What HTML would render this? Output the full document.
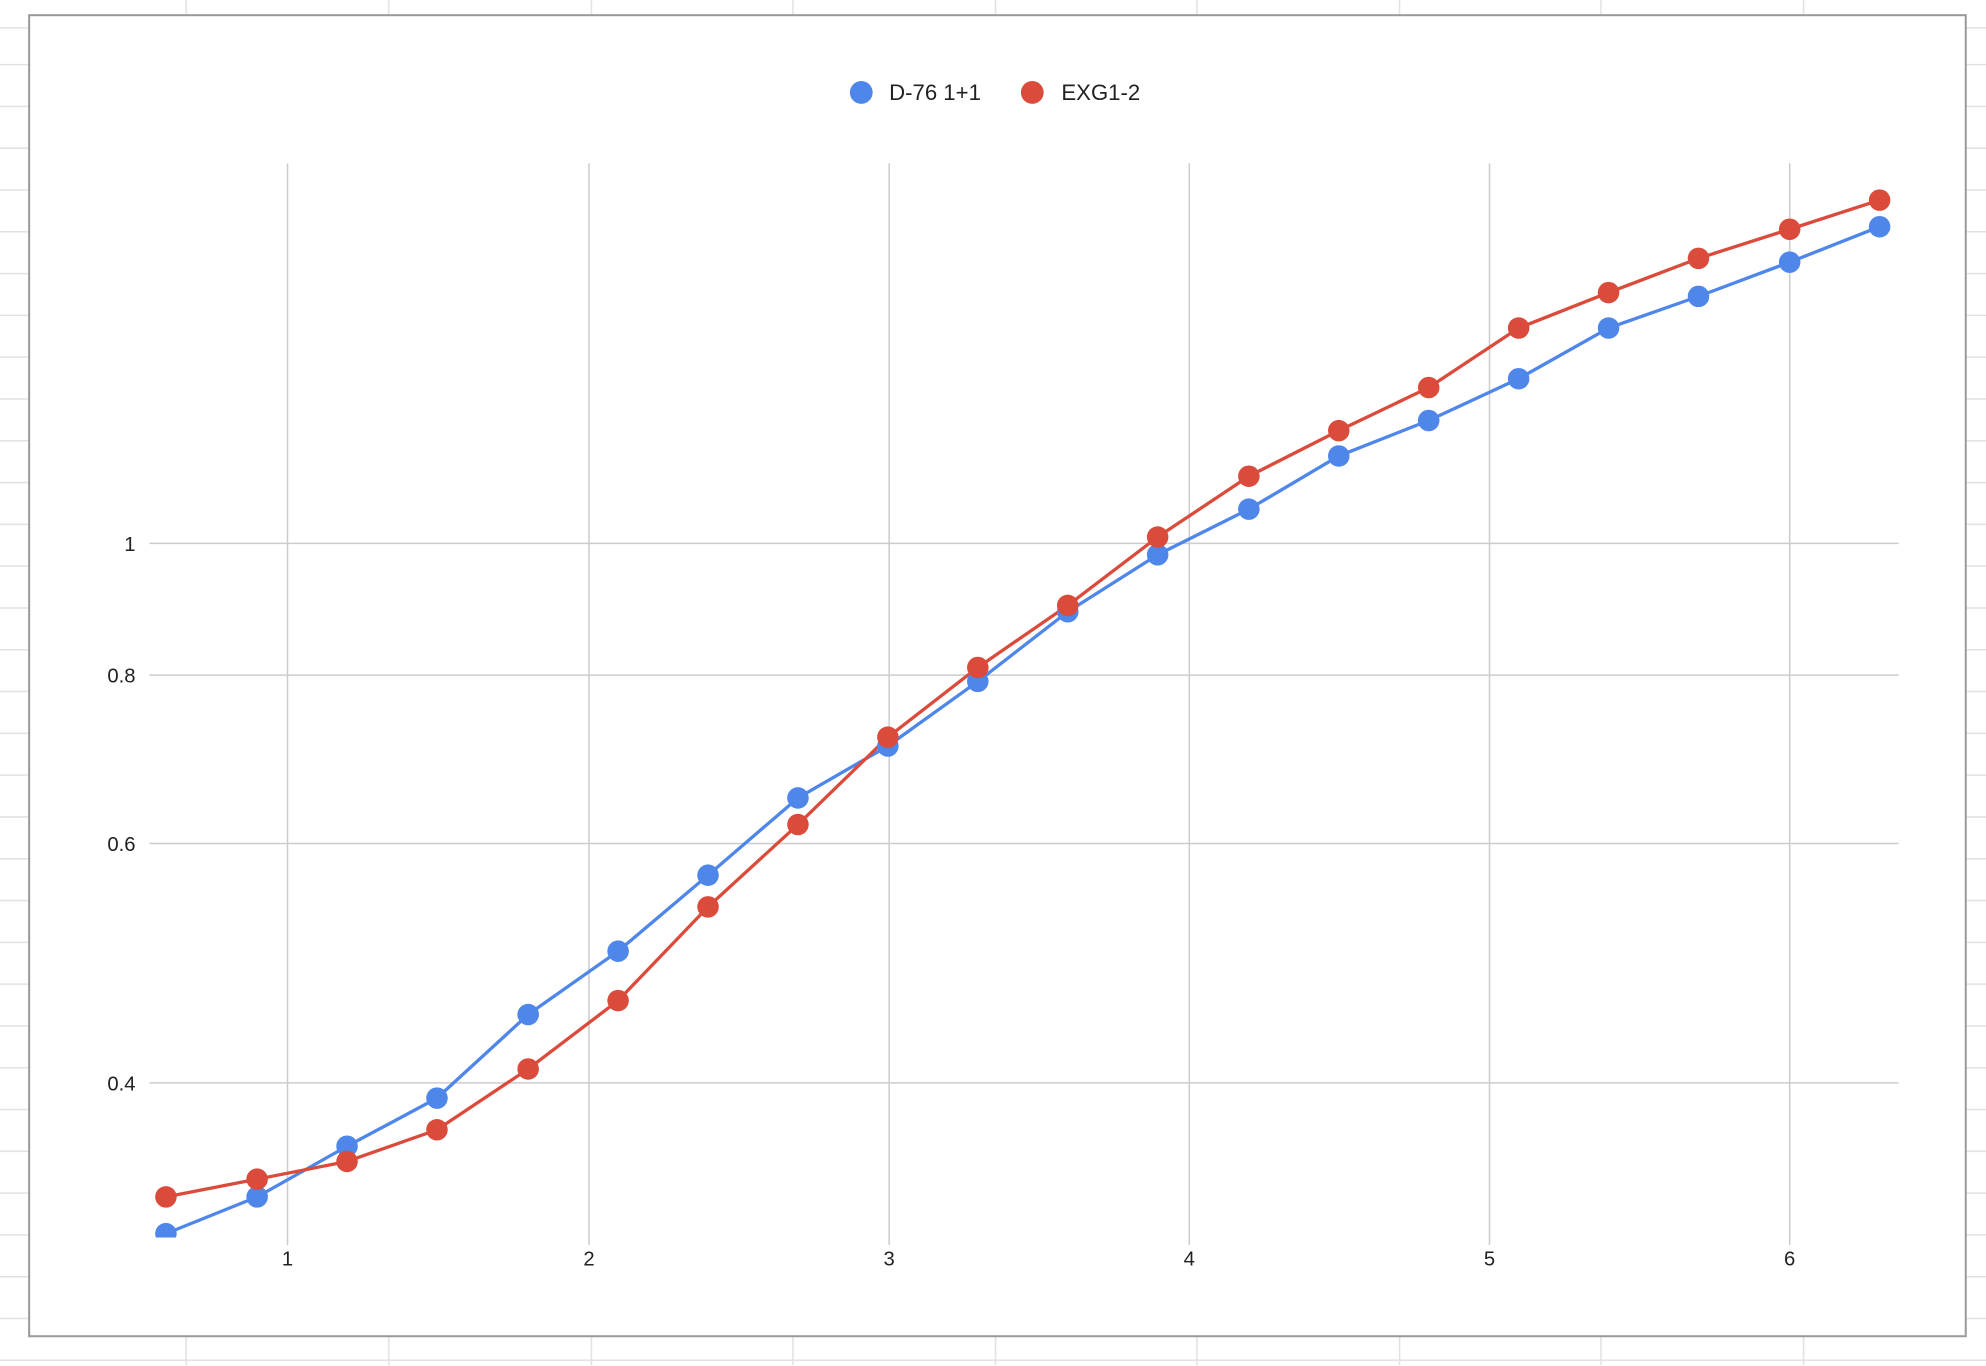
<!DOCTYPE html>
<html><head><style>html,body{margin:0;padding:0;background:#fff}svg{display:block}</style></head><body>
<svg width="1986" height="1366" viewBox="0 0 1568 1078.5" preserveAspectRatio="none" xmlns="http://www.w3.org/2000/svg" font-family="Liberation Sans, Arial, sans-serif">
<rect width="1568" height="1078.5" fill="#fff"/>
<g stroke="#e2e2e2" stroke-width="1.2">
<line x1="147" y1="0" x2="147" y2="1078"/><line x1="307" y1="0" x2="307" y2="1078"/><line x1="467" y1="0" x2="467" y2="1078"/><line x1="626" y1="0" x2="626" y2="1078"/><line x1="786" y1="0" x2="786" y2="1078"/><line x1="945" y1="0" x2="945" y2="1078"/><line x1="1105" y1="0" x2="1105" y2="1078"/><line x1="1264" y1="0" x2="1264" y2="1078"/><line x1="1424" y1="0" x2="1424" y2="1078"/>
<line x1="0" y1="22" x2="1568" y2="22"/><line x1="0" y1="51" x2="1568" y2="51"/><line x1="0" y1="84" x2="1568" y2="84"/><line x1="0" y1="117" x2="1568" y2="117"/><line x1="0" y1="150" x2="1568" y2="150"/><line x1="0" y1="183" x2="1568" y2="183"/><line x1="0" y1="216" x2="1568" y2="216"/><line x1="0" y1="249" x2="1568" y2="249"/><line x1="0" y1="282" x2="1568" y2="282"/><line x1="0" y1="315" x2="1568" y2="315"/><line x1="0" y1="348" x2="1568" y2="348"/><line x1="0" y1="381" x2="1568" y2="381"/><line x1="0" y1="414" x2="1568" y2="414"/><line x1="0" y1="447" x2="1568" y2="447"/><line x1="0" y1="480" x2="1568" y2="480"/><line x1="0" y1="513" x2="1568" y2="513"/><line x1="0" y1="546" x2="1568" y2="546"/><line x1="0" y1="579" x2="1568" y2="579"/><line x1="0" y1="612" x2="1568" y2="612"/><line x1="0" y1="645" x2="1568" y2="645"/><line x1="0" y1="678" x2="1568" y2="678"/><line x1="0" y1="711" x2="1568" y2="711"/><line x1="0" y1="744" x2="1568" y2="744"/><line x1="0" y1="777" x2="1568" y2="777"/><line x1="0" y1="810" x2="1568" y2="810"/><line x1="0" y1="843" x2="1568" y2="843"/><line x1="0" y1="876" x2="1568" y2="876"/><line x1="0" y1="909" x2="1568" y2="909"/><line x1="0" y1="942" x2="1568" y2="942"/><line x1="0" y1="975" x2="1568" y2="975"/><line x1="0" y1="1008" x2="1568" y2="1008"/><line x1="0" y1="1041" x2="1568" y2="1041"/><line x1="0" y1="1074" x2="1568" y2="1074"/>
</g>
<rect x="23" y="12" width="1529" height="1043" fill="#fff" stroke="#9a9a9a" stroke-width="1.6"/>
<g stroke="#cccccc" stroke-width="1.2">
<line x1="227" y1="129" x2="227" y2="983"/><line x1="465" y1="129" x2="465" y2="983"/><line x1="702" y1="129" x2="702" y2="983"/><line x1="939" y1="129" x2="939" y2="983"/><line x1="1176" y1="129" x2="1176" y2="983"/><line x1="1413" y1="129" x2="1413" y2="983"/>
<line x1="118" y1="429" x2="1499" y2="429"/><line x1="118" y1="533" x2="1499" y2="533"/><line x1="118" y1="666" x2="1499" y2="666"/><line x1="118" y1="855" x2="1499" y2="855"/>
</g>
<g font-size="16" fill="#222">
<text x="107" y="435" text-anchor="end">1</text><text x="107" y="539" text-anchor="end">0.8</text><text x="107" y="672" text-anchor="end">0.6</text><text x="107" y="861" text-anchor="end">0.4</text>
<text x="227" y="999" text-anchor="middle">1</text><text x="465" y="999" text-anchor="middle">2</text><text x="702" y="999" text-anchor="middle">3</text><text x="939" y="999" text-anchor="middle">4</text><text x="1176" y="999" text-anchor="middle">5</text><text x="1413" y="999" text-anchor="middle">6</text>
</g>
<circle cx="680" cy="73" r="9" fill="#4e86ea"/><text x="702" y="79" font-size="17.5" fill="#222">D-76 1+1</text>
<circle cx="815" cy="73" r="9" fill="#db4b3b"/><text x="838" y="79" font-size="17.5" fill="#222">EXG1-2</text>
<defs><clipPath id="c"><rect x="100" y="100" width="1420" height="877"/></clipPath></defs>
<g clip-path="url(#c)">
<polyline fill="none" stroke="#4e86ea" stroke-width="2.6" stroke-linejoin="round" points="131,974 203,945 274,905 345,867 417,801 488,751 559,691 630,630 701,589 772,538 843,483 914,438 986,402 1057,360 1128,332 1199,299 1270,259 1341,234 1413,207 1484,179"/>
<polyline fill="none" stroke="#db4b3b" stroke-width="2.6" stroke-linejoin="round" points="131,945 203,931 274,917 345,892 417,844 488,790 559,716 630,651 701,582 772,527 843,478 914,424 986,376 1057,340 1128,306 1199,259 1270,231 1341,204 1413,181 1484,158"/>
<g fill="#4e86ea"><circle cx="131" cy="974" r="8.5"/><circle cx="203" cy="945" r="8.5"/><circle cx="274" cy="905" r="8.5"/><circle cx="345" cy="867" r="8.5"/><circle cx="417" cy="801" r="8.5"/><circle cx="488" cy="751" r="8.5"/><circle cx="559" cy="691" r="8.5"/><circle cx="630" cy="630" r="8.5"/><circle cx="701" cy="589" r="8.5"/><circle cx="772" cy="538" r="8.5"/><circle cx="843" cy="483" r="8.5"/><circle cx="914" cy="438" r="8.5"/><circle cx="986" cy="402" r="8.5"/><circle cx="1057" cy="360" r="8.5"/><circle cx="1128" cy="332" r="8.5"/><circle cx="1199" cy="299" r="8.5"/><circle cx="1270" cy="259" r="8.5"/><circle cx="1341" cy="234" r="8.5"/><circle cx="1413" cy="207" r="8.5"/><circle cx="1484" cy="179" r="8.5"/></g>
<g fill="#db4b3b"><circle cx="131" cy="945" r="8.5"/><circle cx="203" cy="931" r="8.5"/><circle cx="274" cy="917" r="8.5"/><circle cx="345" cy="892" r="8.5"/><circle cx="417" cy="844" r="8.5"/><circle cx="488" cy="790" r="8.5"/><circle cx="559" cy="716" r="8.5"/><circle cx="630" cy="651" r="8.5"/><circle cx="701" cy="582" r="8.5"/><circle cx="772" cy="527" r="8.5"/><circle cx="843" cy="478" r="8.5"/><circle cx="914" cy="424" r="8.5"/><circle cx="986" cy="376" r="8.5"/><circle cx="1057" cy="340" r="8.5"/><circle cx="1128" cy="306" r="8.5"/><circle cx="1199" cy="259" r="8.5"/><circle cx="1270" cy="231" r="8.5"/><circle cx="1341" cy="204" r="8.5"/><circle cx="1413" cy="181" r="8.5"/><circle cx="1484" cy="158" r="8.5"/></g>
</g>
</svg>
</body></html>
